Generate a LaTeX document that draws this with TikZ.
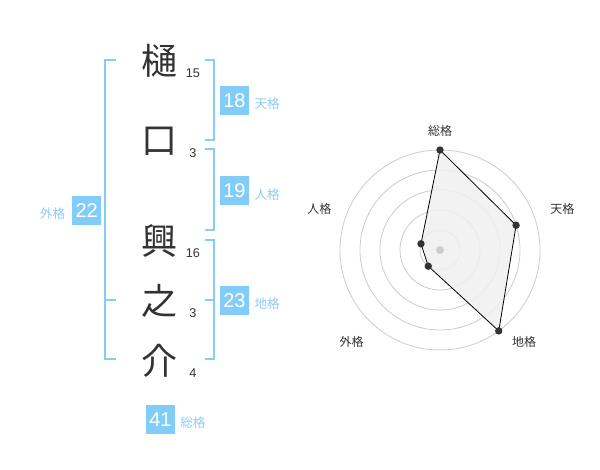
\documentclass[tikz,border=0pt]{standalone}
\usepackage{fontspec}
\setmainfont{Liberation Sans}
\newfontfamily\cjk{Noto Sans CJK JP}
\begin{document}
\begin{tikzpicture}[x=0.75pt,y=-0.75pt,
  brk/.style={draw=bracketblue,line width=1.5pt},
  numbox/.style={fill=boxblue,text=white,minimum size=21.75pt,inner sep=0pt,font=\fontsize{15}{15}\selectfont},
  kaku/.style={text=labelblue,font=\cjk\fontsize{9.5}{10}\selectfont,anchor=west,inner sep=0pt},
  kanji/.style={text=kanjigray,font=\cjk\fontsize{27}{27}\selectfont,inner sep=0pt},
  stroke/.style={text=kanjigray,font=\fontsize{9.5}{10}\selectfont,inner sep=0pt},
  axislabel/.style={text=kanjigray,font=\cjk\fontsize{9}{10}\selectfont,inner sep=0pt},
  ring/.style={draw=ringgray,line width=0.6pt},
  dot/.style={fill=kanjigray,draw=none}
]
\definecolor{bracketblue}{HTML}{86CCF8}
\definecolor{boxblue}{HTML}{82CCFA}
\definecolor{labelblue}{HTML}{8CCDF4}
\definecolor{kanjigray}{HTML}{333333}
\definecolor{ringgray}{HTML}{CCCCCC}
\definecolor{fillgray}{HTML}{F0F0F0}
\useasboundingbox[fill=white] (0,0) rectangle (600,470);

% kanji
\node[kanji] (k1) at (159,61) {樋};
\node[kanji] (k2) at (159,141) {口};
\node[kanji] (k3) at (159,241) {興};
\node[kanji] (k4) at (159,301) {之};
\node[kanji] (k5) at (159,361) {介};
% stroke counts
\node[stroke] (s1) at (193,73) {15};
\node[stroke] (s2) at (193,153.3) {3};
\node[stroke] (s3) at (193,252.7) {16};
\node[stroke] (s4) at (193,312.7) {3};
\node[stroke] (s5) at (193,372.7) {4};

% brackets
\coordinate (gL1) at (115.7,60); \coordinate (gL2) at (115.7,359.3);
\draw[brk] (gL1) -- (105.3,60) -- (105.3,359.3) -- (gL2);
\draw[brk] (105.3,300) -- (115.7,300);
\draw[brk] (205,60) -- (214.3,60) -- (214.3,140) -- (205,140);
\draw[brk] (205,149.3) -- (214.3,149.3) -- (214.3,230) -- (205,230);
\draw[brk] (205,240) -- (214.3,240) -- (214.3,359.3) -- (205,359.3);
\draw[brk] (205,300) -- (214.3,300);

% boxes
\node[numbox] (b18) at (234.5,100.5) {18};
\node[kaku] (l18) at (254.3,104) {天格};
\node[numbox] (b19) at (234.5,190.5) {19};
\node[kaku] (l19) at (254.3,194.5) {人格};
\node[numbox] (b23) at (234.5,300.5) {23};
\node[kaku] (l23) at (254.3,304) {地格};
\node[numbox] (b22) at (86.7,210.5) {22};
\node[kaku,anchor=east] (l22) at (65.5,214) {外格};
\node[numbox] (b41) at (160.5,419.5) {41};
\node[kaku] (l41) at (180,422.7) {総格};

% radar
\begin{scope}[shift={(440,250)},yscale=-1]
  \foreach \r in {20,40,60,80,100} \draw[ring] (0,0) circle (\r);
  \coordinate (pS) at (90:100);
  \coordinate (pT) at (18:80);
  \coordinate (pC) at (-54:100);
  \coordinate (pG) at (-126:20);
  \coordinate (pJ) at (162:20);
  \draw[fill=fillgray,fill opacity=0.85,draw=black,line width=0.6pt] (pS) -- (pT) -- (pC) -- (pG) -- (pJ) -- cycle;
  \fill[ringgray] (0,0) circle (4);
  \foreach \p in {pS,pT,pC,pG,pJ} \fill[dot] (\p) circle (3.7);
\end{scope}
\node[axislabel] (aS) at (440,130.7) {総格};
\node[axislabel] (aT) at (562.3,209) {天格};
\node[axislabel] (aC) at (524,342) {地格};
\node[axislabel] (aG) at (351.7,342) {外格};
\node[axislabel] (aJ) at (319.3,209) {人格};
\end{tikzpicture}
\end{document}
